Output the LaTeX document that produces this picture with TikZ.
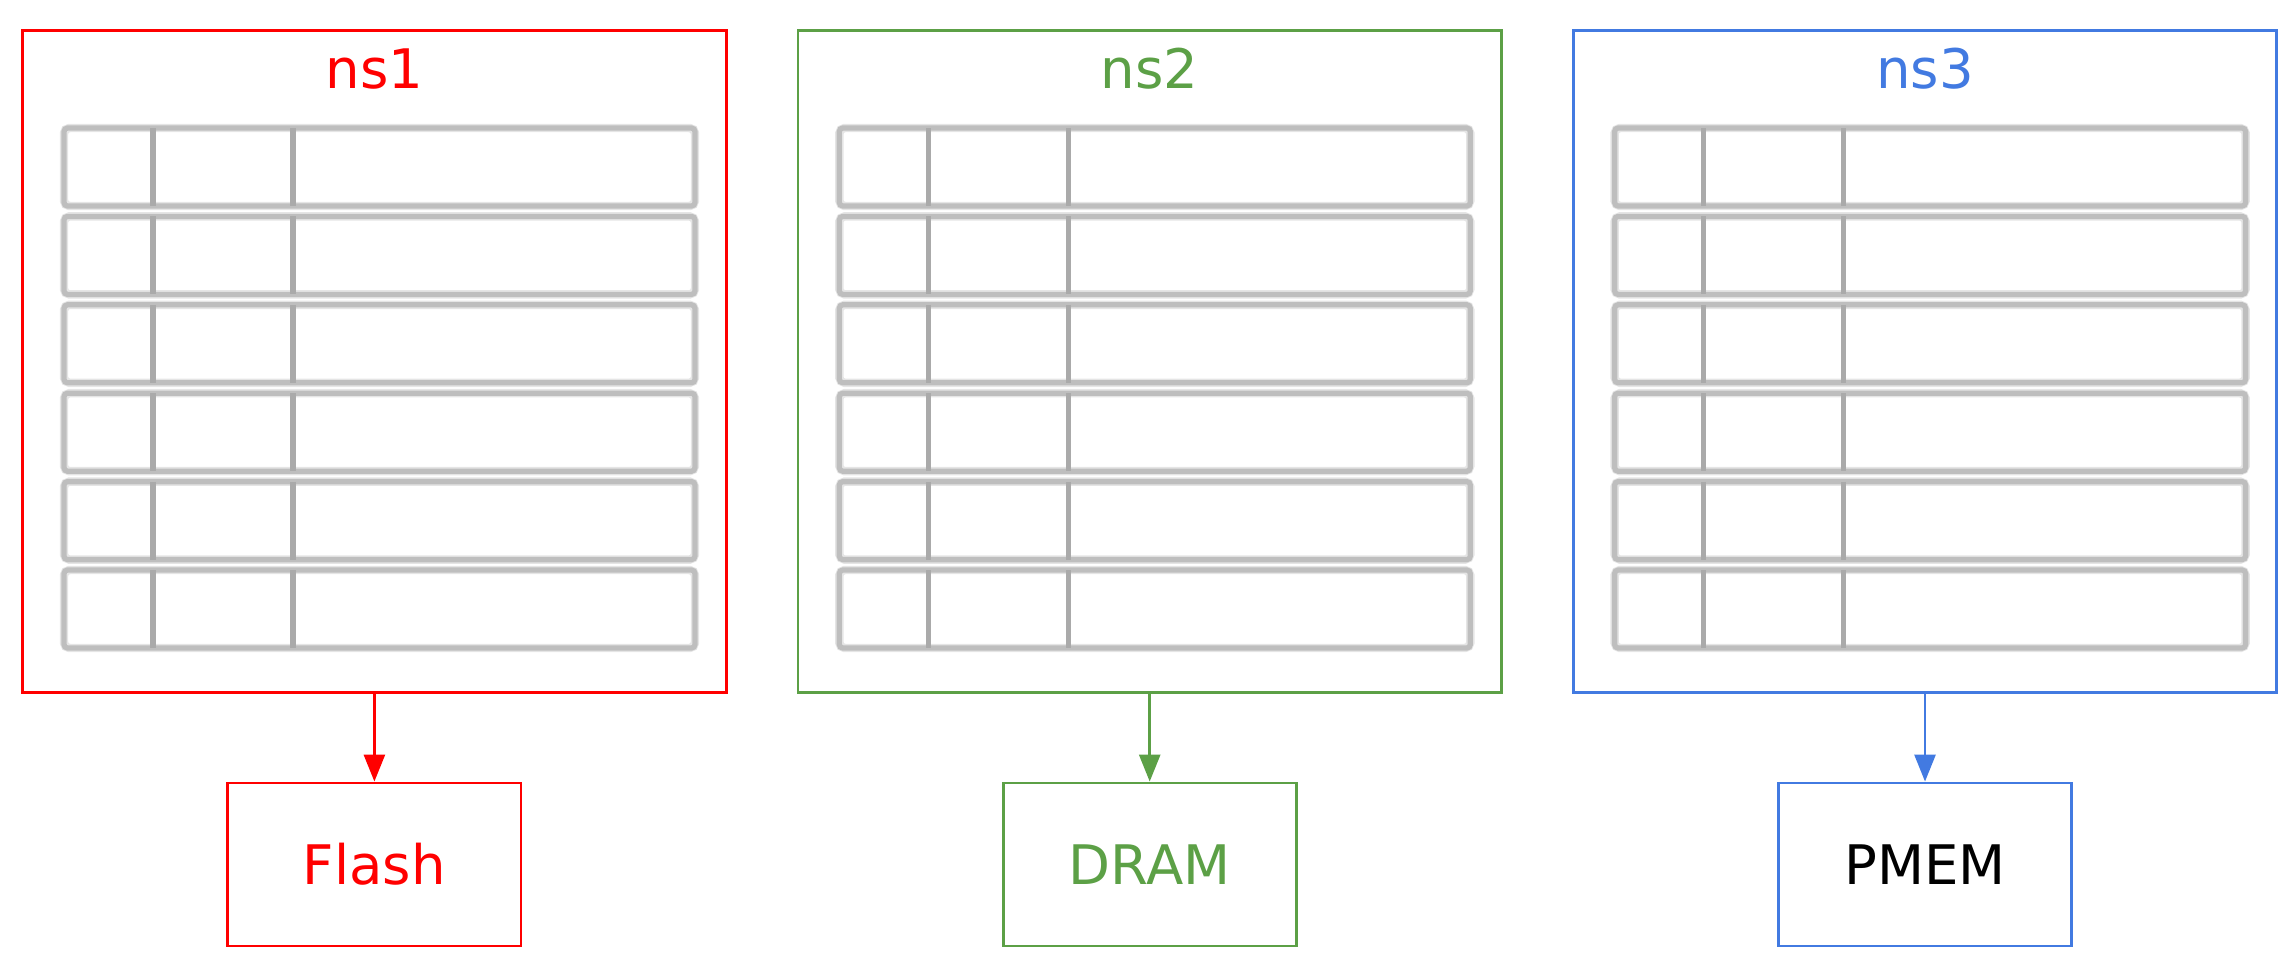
\documentclass[tikz,border=0pt]{standalone}
\usepackage{fontspec}
\setmainfont{DejaVu Sans}
\usetikzlibrary{arrows.meta,positioning}
\definecolor{nsred}{RGB}{255,0,0}
\definecolor{nsgreen}{RGB}{92,160,70}
\definecolor{nsblue}{RGB}{66,122,225}
\definecolor{rowgray}{RGB}{190,190,190}
\definecolor{colgray}{RGB}{170,170,170}

\begin{document}
\begin{tikzpicture}[
  x=0.01cm, y=-0.01cm,
  frame/.style={draw, line width=0.8pt, minimum width=7.03cm, minimum height=6.61cm, inner sep=0pt},
  dev/.style={draw, line width=0.8pt, minimum width=2.93cm, minimum height=1.63cm, font=\fontsize{15.5}{18}\selectfont},
  title/.style={font=\fontsize{15.5}{18}\selectfont, anchor=base},
  halo/.style={draw=rowgray!40, line width=2.4pt, rounded corners=1.5pt},
  row/.style={draw=rowgray, line width=1.5pt, rounded corners=1pt},
  colline/.style={draw=colgray, line width=1.5pt},
  >={Triangle[length=0.27cm, width=0.21cm]}
]
  \useasboundingbox (0,0) rectangle (2294,966);

  % namespaces
  \node[frame, draw=nsred]   (ns1) at (374.4,361.4)  {};
  \node[frame, draw=nsgreen] (ns2) at (1149.7,361.4) {};
  \node[frame, draw=nsblue]  (ns3) at (1925.0,361.4) {};

  \node[title, text=nsred]   (ns1lbl) at (374.4,88)  {ns1};
  \node[title, text=nsgreen] (ns2lbl) at (1149.7,88) {ns2};
  \node[title, text=nsblue]  (ns3lbl) at (1925.0,88) {ns3};

  % table rows inside each namespace
  \foreach \dx in {0,775.3,1550.6} {
    \foreach \k in {0,...,5} {
      \draw[halo] (\dx+64,128+88.4*\k) rectangle ++(631,78);
      \draw[row]  (\dx+64,128+88.4*\k) rectangle ++(631,78);
      \draw[colline] (\dx+153,128+88.4*\k) -- ++(0,78);
      \draw[colline] (\dx+293,128+88.4*\k) -- ++(0,78);
    }
  }

  % backing devices
  \node[dev, draw=nsred, text=nsred]     (flash) at (374.4,864.5)  {Flash};
  \node[dev, draw=nsgreen, text=nsgreen] (dram)  at (1149.7,864.5) {DRAM};
  \node[dev, draw=nsblue, text=black]    (pmem)  at (1925.0,864.5) {PMEM};

  \draw[->, nsred, line width=0.8pt]   (ns1.south) -- (flash.north);
  \draw[->, nsgreen, line width=0.8pt] (ns2.south) -- (dram.north);
  \draw[->, nsblue, line width=0.8pt]  (ns3.south) -- (pmem.north);
\end{tikzpicture}
\end{document}
